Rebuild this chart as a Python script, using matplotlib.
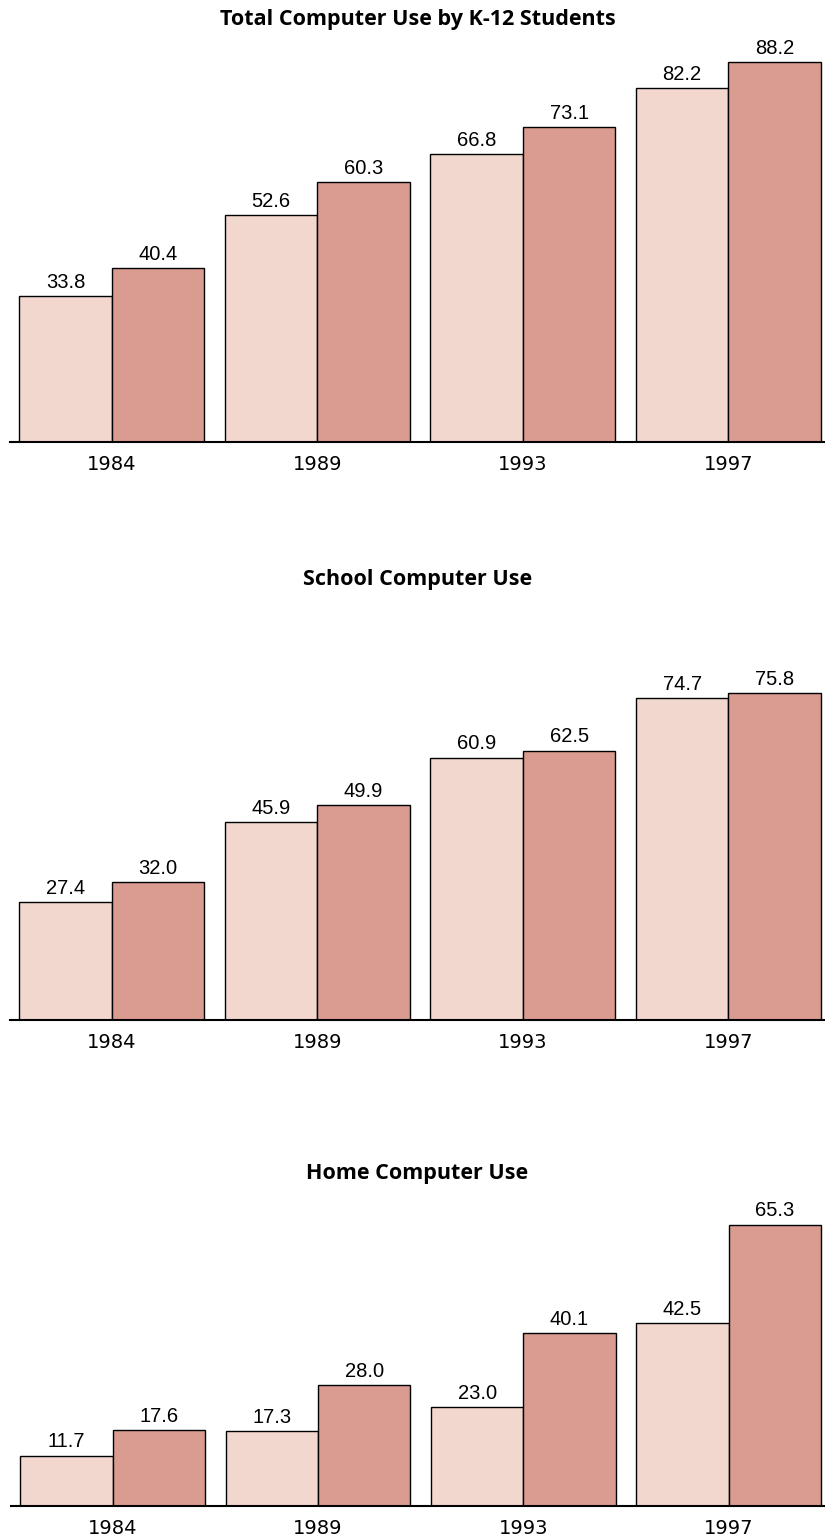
import numpy as np
import matplotlib.pyplot as plt

years = ['1984', '1989', '1993', '1997']
titles = ['Total Computer Use by K-12 Students', 'School Computer Use', 'Home Computer Use']
light_vals = [
    [33.8, 52.6, 66.8, 82.2],
    [27.4, 45.9, 60.9, 74.7],
    [11.7, 17.3, 23.0, 42.5],
]
dark_vals = [
    [40.4, 60.3, 73.1, 88.2],
    [32.0, 49.9, 62.5, 75.8],
    [17.6, 28.0, 40.1, 65.3],
]

W, H = 825, 1535
fig = plt.figure(figsize=(W / 100, H / 100), dpi=100)

light_c = '#F2D7CF'
dark_c = '#DA9B90'
bw = 0.45
ymax = 90
px_per_unit = 4.31

# baseline pixel (from top), title pixel, x offset
panels = [(442, 20, 0), (1020, 580, 0), (1506, 1173, 1)]

for i, (base, ty, dx) in enumerate(panels):
    h = ymax * px_per_unit
    ax = fig.add_axes([(10 + dx) / W, (H - base) / H, (W - 10 - dx) / W, h / H])
    x = np.arange(len(years))
    b1 = ax.bar(x - bw / 2, light_vals[i], bw, color=light_c, edgecolor='black', linewidth=1)
    b2 = ax.bar(x + bw / 2, dark_vals[i], bw, color=dark_c, edgecolor='black', linewidth=1)
    for bars in (b1, b2):
        ax.bar_label(bars, fmt='%.1f', padding=3, fontsize=14.5, family='Liberation Sans')
    ax.set_xlim(-0.496, 3.47)
    ax.set_ylim(0, ymax)
    ax.set_xticks(x)
    ax.set_xticklabels(years, fontsize=14, family='DejaVu Sans')
    ax.tick_params(axis='x', length=0, pad=9)
    ax.set_yticks([])
    for s in ('left', 'right', 'top'):
        ax.spines[s].set_visible(False)
    ax.spines['bottom'].set_linewidth(1.5)
    fig.text(0.5 * (W + 10) / W, 1 - ty / H, titles[i], ha='center', va='center',
             fontsize=15.5, fontweight='bold', family='Open Sans')

fig.savefig('out.png', dpi=100)
